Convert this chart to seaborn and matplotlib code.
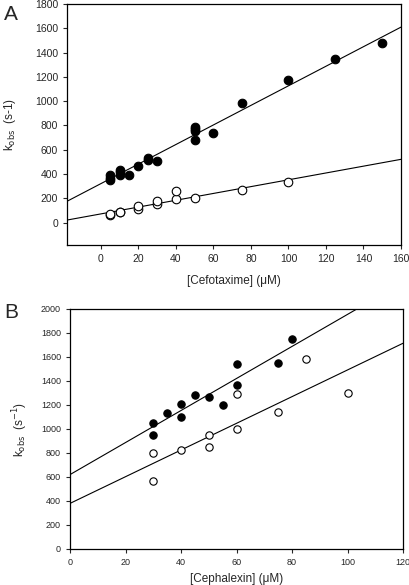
import pandas as pd
import numpy as np
import matplotlib.pyplot as plt
import seaborn as sns

sns.set_style("ticks")
plt.rcParams['font.family'] = ['Liberation Sans', 'DejaVu Sans']

# panel A - cefotaxime
cef_x_filled = [5, 5, 5, 10, 10, 10, 15, 20, 25, 25, 30, 50, 50, 50, 50, 60, 75, 100, 125, 150]
cef_y_filled = [350, 370, 390, 390, 420, 435, 395, 465, 515, 535, 510, 680, 750, 770, 790, 740, 985, 1170, 1350, 1480]
cef_x_open = [5, 5, 10, 10, 20, 20, 30, 30, 40, 40, 50, 75, 100]
cef_y_open = [60, 70, 85, 90, 110, 135, 150, 180, 190, 260, 205, 270, 330]
cef_fit_filled = [320, 8.06]   # intercept, slope
cef_fit_open = [71, 2.81]

# panel B - cephalexin
ceph_x_filled = [30, 30, 35, 40, 40, 45, 50, 55, 60, 60, 75, 80]
ceph_y_filled = [950, 1050, 1130, 1100, 1210, 1280, 1270, 1200, 1370, 1540, 1550, 1750]
ceph_x_open = [30, 30, 40, 50, 50, 60, 60, 75, 85, 100]
ceph_y_open = [565, 800, 825, 850, 950, 1000, 1290, 1140, 1580, 1300]
ceph_fit_filled = [620, 13.35]
ceph_fit_open = [380, 11.12]

fig = plt.figure(figsize=(4.1, 5.85), dpi=100)
axA = fig.add_axes([67/410, 1 - 245/585, 334/410, 241/585])
axB = fig.add_axes([70/410, 1 - 549/585, 333/410, 240/585])


def draw(ax, xf, yf, xo, yo, fitf, fito, size):
    sns.scatterplot(x=xf, y=yf, ax=ax, color='black', s=size, edgecolor='black', linewidth=0.8, zorder=3)
    sns.scatterplot(x=xo, y=yo, ax=ax, color='white', s=size, edgecolor='black', linewidth=0.8, zorder=3)
    for b, m in (fitf, fito):
        ax.axline((0, b), slope=m, color='black', lw=0.8, zorder=2)
    for sp in ax.spines.values():
        sp.set_linewidth(0.9)
        sp.set_color('black')
    ax.tick_params(labelsize=7.5, length=3, width=0.8, direction='out')


draw(axA, cef_x_filled, cef_y_filled, cef_x_open, cef_y_open, cef_fit_filled, cef_fit_open, 38)
axA.set_xlim(-18, 160)
axA.set_ylim(-185, 1800)
axA.set_xticks(range(0, 161, 20))
axA.set_yticks(range(0, 1801, 200))
axA.set_xlabel('[Cefotaxime] (\u03bcM)', fontsize=8.5, labelpad=8)
axA.set_ylabel(r'k$_{\mathrm{obs}}$  (s-1)', fontsize=8.5, labelpad=12)
fig.text(4/410, 1 - 14/585, 'A', fontsize=15, va='center', ha='left')

draw(axB, ceph_x_filled, ceph_y_filled, ceph_x_open, ceph_y_open, ceph_fit_filled, ceph_fit_open, 28)
axB.set_xlim(0, 120)
axB.set_ylim(0, 2000)
axB.set_xticks(range(0, 121, 20))
axB.set_yticks(range(0, 2001, 200))
axB.tick_params(labelsize=6.5)
axB.set_xlabel('[Cephalexin] (\u03bcM)', fontsize=8.5, labelpad=4)
axB.set_ylabel(r'k$_{\mathrm{obs}}$  (s$^{-1}$)', fontsize=8.5, labelpad=8)
fig.text(4/410, 1 - 312/585, 'B', fontsize=15, va='center', ha='left')

fig.savefig('out.png', dpi=100)
